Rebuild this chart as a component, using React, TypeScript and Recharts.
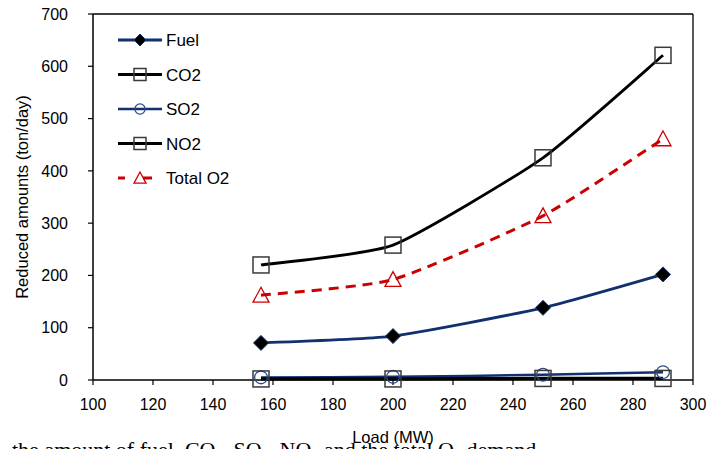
import React from 'react';
import {
  LineChart,
  Line,
  XAxis,
  YAxis,
  ReferenceLine,
  Customized,
} from 'recharts';

// Load (MW) on the x axis
const loads = [156, 200, 250, 290];

// Reduced amounts (ton/day)
const fuel = [71, 84, 138, 202];
const co2 = [220, 258, 425, 621];
const so2 = [5, 6, 10, 15];
const no2 = [2, 2, 3, 3];
const totalO2 = [162, 192, 314, 461];

const xTicks = [100, 120, 140, 160, 180, 200, 220, 240, 260, 280, 300];
const yTicks = [0, 100, 200, 300, 400, 500, 600, 700];

const data = loads.map((load, i) => ({
  load,
  fuel: fuel[i],
  co2: co2[i],
  so2: so2[i],
  no2: no2[i],
  totalO2: totalO2[i],
}));

const FONT = '"Liberation Sans", Arial, sans-serif';
const NAVY = '#10306e';
const RED = '#cc0000';

// lightly smoothed line (low-tension cardinal spline through the points)
const smoothCurve = (context: any) => {
  let pts: number[][] = [];
  return {
    areaStart() {},
    areaEnd() {},
    lineStart() {
      pts = [];
    },
    point(x: number, y: number) {
      pts.push([+x, +y]);
    },
    lineEnd() {
      const n = pts.length;
      if (!n) return;
      context.moveTo(pts[0][0], pts[0][1]);
      for (let i = 0; i < n - 1; i++) {
        const p0 = pts[Math.max(i - 1, 0)];
        const p1 = pts[i];
        const p2 = pts[i + 1];
        const p3 = pts[Math.min(i + 2, n - 1)];
        const t = 1 / 11;
        context.bezierCurveTo(
          p1[0] + (p2[0] - p0[0]) * t,
          p1[1] + (p2[1] - p0[1]) * t,
          p2[0] - (p3[0] - p1[0]) * t,
          p2[1] - (p3[1] - p1[1]) * t,
          p2[0],
          p2[1]
        );
      }
    },
  };
};

type Shape = 'diamond' | 'square' | 'circle' | 'triangle';

const Marker = ({ shape, cx, cy, s }: { shape: Shape; cx: number; cy: number; s: number }) => {
  const h = s / 2;
  if (shape === 'diamond') {
    return (
      <polygon
        points={`${cx},${cy - h} ${cx + h},${cy} ${cx},${cy + h} ${cx - h},${cy}`}
        fill="#000"
        stroke={NAVY}
        strokeWidth={1}
      />
    );
  }
  if (shape === 'square') {
    return <rect x={cx - h} y={cy - h} width={s} height={s} fill="none" stroke="#3a3a3a" strokeWidth={1.5} />;
  }
  if (shape === 'circle') {
    return <circle cx={cx} cy={cy} r={h * 0.85} fill="none" stroke="#2a4a8c" strokeWidth={1.3} />;
  }
  return (
    <polygon
      points={`${cx},${cy - h} ${cx + h},${cy + h * 0.85} ${cx - h},${cy + h * 0.85}`}
      fill="none"
      stroke={RED}
      strokeWidth={1.3}
    />
  );
};

const makeDot = (shape: Shape, s: number) => (props: any) => {
  const { cx, cy, index } = props;
  if (cx == null || cy == null) return <g key={`d-${shape}-${index}`} />;
  return (
    <g key={`d-${shape}-${index}`}>
      <Marker shape={shape} cx={cx} cy={cy} s={s} />
    </g>
  );
};

const series = [
  { key: 'fuel', name: 'Fuel', color: NAVY, width: 2.8, shape: 'diamond' as Shape, size: 15, dash: undefined },
  { key: 'co2', name: 'CO2', color: '#000', width: 2.8, shape: 'square' as Shape, size: 16, dash: undefined },
  { key: 'so2', name: 'SO2', color: NAVY, width: 2.5, shape: 'circle' as Shape, size: 15, dash: undefined },
  { key: 'no2', name: 'NO2', color: '#000', width: 3.2, shape: 'square' as Shape, size: 16, dash: undefined },
  { key: 'totalO2', name: 'Total O2', color: RED, width: 3, shape: 'triangle' as Shape, size: 16, dash: '10 7' },
];

const LegendBox = () => (
  <g transform="translate(110, 27)">
    {series.map((s, i) => {
      const y = 13 + i * 34.5;
      return (
        <g key={s.key}>
          {s.dash ? (
            <>
              <line x1={8} x2={15} y1={y} y2={y} stroke={s.color} strokeWidth={s.width} />
              <line x1={33} x2={42} y1={y} y2={y} stroke={s.color} strokeWidth={s.width} />
            </>
          ) : (
            <line x1={8} x2={52} y1={y} y2={y} stroke={s.color} strokeWidth={s.width} />
          )}
          <Marker shape={s.shape} cx={30} cy={y} s={12} />
          <text x={56} y={y + 6} fontFamily={FONT} fontSize={17} fill="#000">
            {s.name}
          </text>
        </g>
      );
    })}
  </g>
);

const AxisTitles = () => (
  <g>
    <text
      x={22}
      y={197}
      transform="rotate(-90 22 197)"
      textAnchor="middle"
      dominantBaseline="central"
      fontFamily={FONT}
      fontSize={16.5}
      fill="#000"
    >
      Reduced amounts (ton/day)
    </text>
    <text x={393} y={443} textAnchor="middle" fontFamily={FONT} fontSize={16.5} fill="#000">
      Load (MW)
    </text>
  </g>
);

const App: React.FC = () => {
  return (
    <div
      style={{
        position: 'absolute',
        left: 0,
        top: 0,
        width: 712,
        height: 449,
        overflow: 'hidden',
        background: '#fff',
      }}
    >
      <LineChart width={712} height={449} data={data} margin={{ top: 14, right: 19, left: 0, bottom: 0 }}>
        <XAxis
          dataKey="load"
          type="number"
          domain={[100, 300]}
          ticks={xTicks}
          height={69}
          tickSize={5}
          tickMargin={14}
          tick={{ fontFamily: FONT, fontSize: 16, fill: '#000' }}
          axisLine={{ stroke: '#000', strokeWidth: 1.5 }}
          tickLine={{ stroke: '#000', strokeWidth: 1.2 }}
        />
        <YAxis
          type="number"
          domain={[0, 700]}
          ticks={yTicks}
          width={93}
          tickSize={5}
          tickMargin={20}
          tick={{ fontFamily: FONT, fontSize: 16, fill: '#000' }}
          axisLine={{ stroke: '#000', strokeWidth: 1.5 }}
          tickLine={{ stroke: '#000', strokeWidth: 1.2 }}
        />
        <ReferenceLine y={700} stroke="#000" strokeWidth={1.3} />
        <ReferenceLine x={300} stroke="#000" strokeWidth={1.3} />
        {series.map((s) => (
          <Line
            key={s.key}
            dataKey={s.key}
            name={s.name}
            type={smoothCurve as any}
            stroke={s.color}
            strokeWidth={s.width}
            strokeDasharray={s.dash}
            dot={makeDot(s.shape, s.size)}
            activeDot={false}
            isAnimationActive={false}
          />
        ))}
        <Customized component={LegendBox} />
        <Customized component={AxisTitles} />
      </LineChart>
      <div
        style={{
          position: 'absolute',
          left: 12,
          top: 439,
          whiteSpace: 'nowrap',
          fontFamily: '"Liberation Serif", "Times New Roman", serif',
          fontSize: 22,
          lineHeight: 1,
          color: '#000',
        }}
      >
        the amount of fuel, CO<sub style={{ fontSize: 14 }}>2</sub>, SO<sub style={{ fontSize: 14 }}>2</sub>, NO
        <sub style={{ fontSize: 14 }}>2</sub> and the total O<sub style={{ fontSize: 14 }}>2</sub> demand
      </div>
    </div>
  );
};

export default App;
